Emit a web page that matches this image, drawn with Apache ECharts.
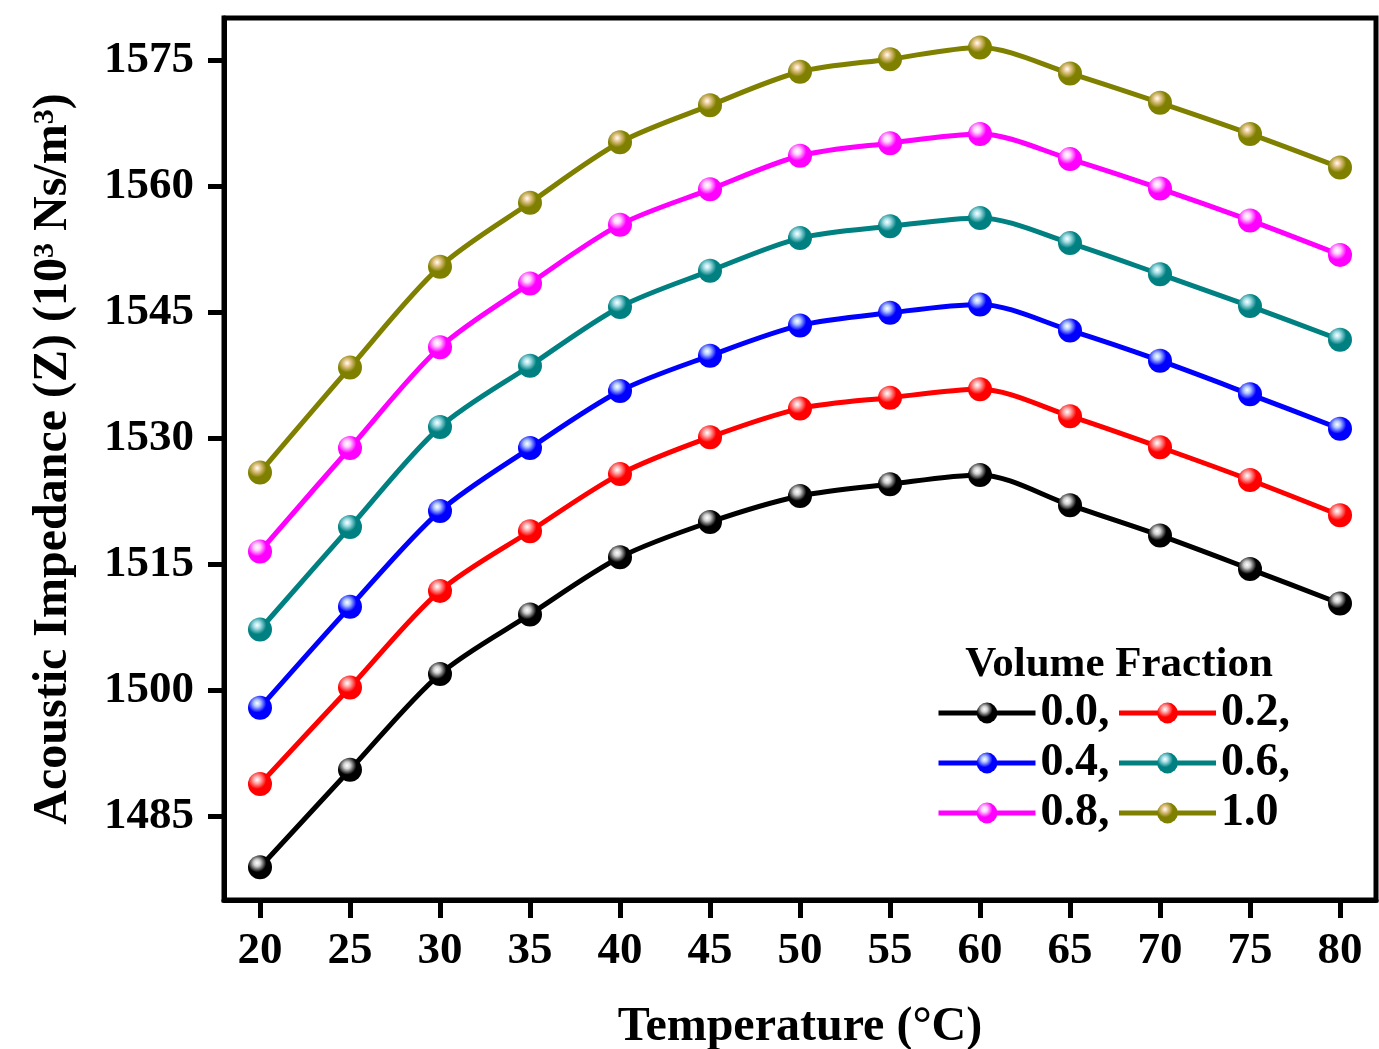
<!DOCTYPE html>
<html>
<head>
<meta charset="utf-8">
<script src="https://cdn.jsdelivr.net/npm/echarts@6/dist/echarts.min.js"></script>
<style>
html, body { margin: 0; padding: 0; background: #fff; }
#main { width: 1379px; height: 1049px; }
</style>
</head>
<body>
<div id="main"></div>
<script>
// temperature (°C)
var temperature = [20, 25, 30, 35, 40, 45, 50, 55, 60, 65, 70, 75, 80];
// acoustic impedance Z (10^3 Ns/m^3) per volume fraction
var z00 = [1478.9, 1490.5, 1501.9, 1509.0, 1515.8, 1520.0, 1523.1, 1524.5, 1525.6, 1522.0, 1518.4, 1514.4, 1510.3];
var z02 = [1488.8, 1500.3, 1511.8, 1518.9, 1525.7, 1530.1, 1533.5, 1534.8, 1535.8, 1532.6, 1528.9, 1525.0, 1520.8];
var z04 = [1497.9, 1509.9, 1521.3, 1528.8, 1535.6, 1539.8, 1543.4, 1544.9, 1545.9, 1542.8, 1539.2, 1535.2, 1531.1];
var z06 = [1507.2, 1519.4, 1531.3, 1538.6, 1545.6, 1549.9, 1553.8, 1555.2, 1556.2, 1553.2, 1549.5, 1545.7, 1541.7];
var z08 = [1516.5, 1528.8, 1540.8, 1548.4, 1555.4, 1559.6, 1563.6, 1565.1, 1566.2, 1563.2, 1559.7, 1555.9, 1551.8];
var z10 = [1525.9, 1538.4, 1550.4, 1558.0, 1565.2, 1569.6, 1573.6, 1575.1, 1576.5, 1573.4, 1569.9, 1566.2, 1562.2];

var fractions = ['0.0', '0.2', '0.4', '0.6', '0.8', '1.0'];
var xTicks = [20, 25, 30, 35, 40, 45, 50, 55, 60, 65, 70, 75, 80];
var yTicks = [1485, 1500, 1515, 1530, 1545, 1560, 1575];

var FONT = "'Liberation Serif', 'Times New Roman', serif";
var colors = ['#000000', '#ff0000', '#0000ff', '#008080', '#ff00ff', '#808000'];
var highlights = ['#d0d0d0', '#ffb0b0', '#b0c8ff', '#a8e0e8', '#ffd0ff', '#e8c890'];
var allData = [z00, z02, z04, z06, z08, z10];

// shaded ball marker
function ball(i) {
    return {
        type: 'radial', x: 0.38, y: 0.32, r: 0.7,
        colorStops: [
            { offset: 0, color: '#ffffff' },
            { offset: 0.2, color: highlights[i] },
            { offset: 0.55, color: colors[i] },
            { offset: 1, color: colors[i] }
        ]
    };
}

var series = [];
fractions.forEach(function (name, i) {
    series.push({
        name: name,
        type: 'line',
        smooth: 0.3,
        data: temperature.map(function (t, k) { return [t, allData[i][k]]; }),
        symbol: 'circle',
        symbolSize: 24,
        lineStyle: { color: colors[i], width: 5 },
        itemStyle: { color: ball(i), borderWidth: 0 },
        z: 2 + i
    });
});

// three legend rows, two entries each
var legendRows = [];
[714, 764, 814].forEach(function (cy, r) {
    legendRows.push({
        left: 936,
        top: cy - 24,
        itemWidth: 97,
        itemHeight: 26,
        itemGap: 7,
        padding: 0,
        data: fractions.slice(r * 2, r * 2 + 2),
        lineStyle: { width: 5 },
        formatter: function (name) {
            return name === '1.0' ? name : name + ',';
        },
        textStyle: { fontFamily: FONT, fontWeight: 'bold', fontSize: 46, color: '#000' }
    });
});

var chart = echarts.init(document.getElementById('main'));
chart.setOption({
    animation: false,
    backgroundColor: '#fff',
    title: {
        text: 'Volume Fraction',
        left: 1114,
        textAlign: 'center',
        top: 638,
        textStyle: { fontFamily: FONT, fontWeight: 'bold', fontSize: 43, color: '#000' }
    },
    legend: legendRows,
    grid: {
        left: 224,
        right: 3,
        top: 18,
        bottom: 149,
        outerBoundsMode: 'none',
        containLabel: false,
        show: true,
        borderColor: '#000',
        borderWidth: 5
    },
    xAxis: {
        type: 'value',
        min: 18,
        max: 82,
        name: 'Temperature (°C)',
        nameLocation: 'middle',
        nameGap: 104,
        nameTextStyle: { fontFamily: FONT, fontWeight: 'bold', fontSize: 48, color: '#000' },
        splitLine: { show: false },
        axisLine: { lineStyle: { color: '#000', width: 5 } },
        axisTick: { customValues: xTicks, length: 18, lineStyle: { width: 5, color: '#000' } },
        axisLabel: {
            customValues: xTicks,
            margin: 29,
            fontFamily: FONT, fontWeight: 'bold', fontSize: 45, color: '#000'
        }
    },
    yAxis: {
        type: 'value',
        min: 1475,
        max: 1580,
        name: 'Acoustic Impedance (Z) (10{sup|3} Ns/m{sup|3})',
        nameLocation: 'middle',
        nameGap: 146,
        nameTextStyle: {
            fontFamily: FONT, fontWeight: 'bold', fontSize: 48, color: '#000',
            rich: {
                sup: { fontFamily: FONT, fontWeight: 'bold', fontSize: 30, color: '#000', lineHeight: 22, verticalAlign: 'top' }
            }
        },
        splitLine: { show: false },
        axisLine: { lineStyle: { color: '#000', width: 5 } },
        axisTick: { customValues: yTicks, length: 16, lineStyle: { width: 5, color: '#000' } },
        axisLabel: {
            customValues: yTicks,
            margin: 30,
            formatter: function (v) { return String(v); },
            fontFamily: FONT, fontWeight: 'bold', fontSize: 45, color: '#000'
        }
    },
    series: series
});
</script>
</body>
</html>
